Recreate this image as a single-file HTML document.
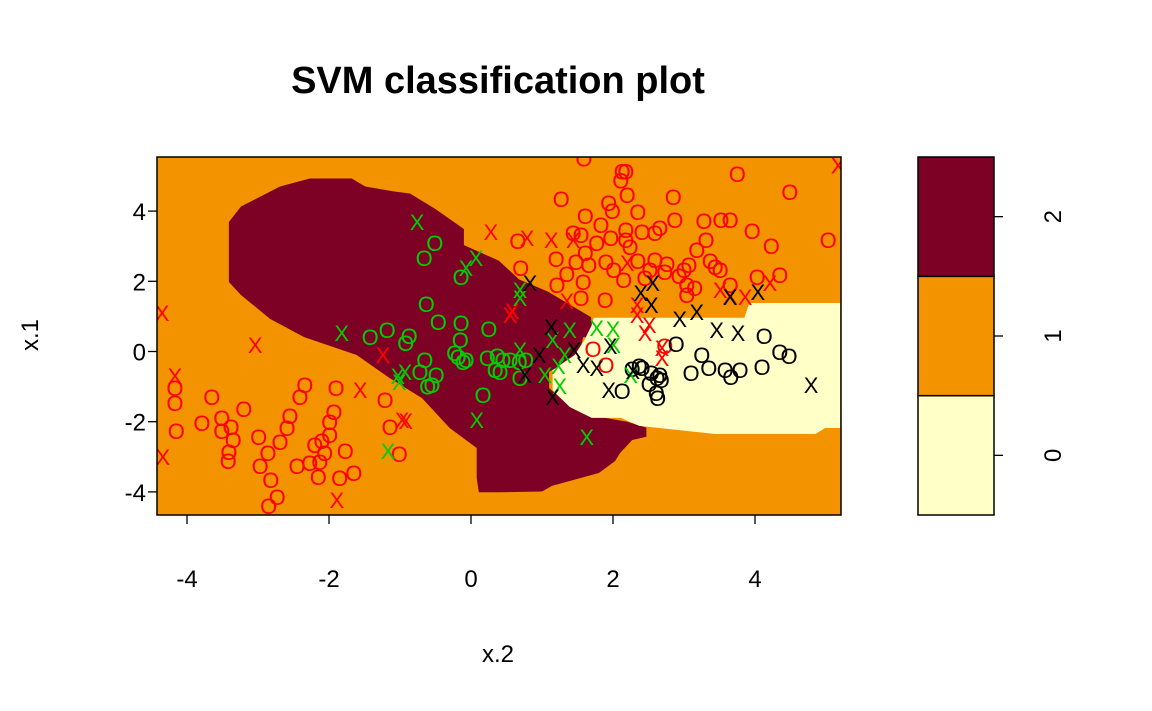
<!DOCTYPE html>
<html><head><meta charset="utf-8"><style>
html,body{margin:0;padding:0;background:#fff;}
svg{display:block;font-family:"Liberation Sans",Arial,sans-serif;}
</style></head><body>
<svg id="chart" width="1152" height="711" viewBox="0 0 1152 711">
<text x="498" y="93" text-anchor="middle" font-size="38" font-weight="bold">SVM classification plot</text>
<g id="plot"></g>
<g id="axes"></g>
<g id="legend"></g>
<text x="498" y="662" text-anchor="middle" font-size="24">x.2</text>
<text x="0" y="0" transform="translate(38,335) rotate(-90)" text-anchor="middle" font-size="24">x.1</text>
</svg>
<script>
const xTicks=[-4,-2,0,2,4];
const yTicks=[-4,-2,0,2,4];
const classLevels=["0","1","2"];
const classColors=["#FFFFC8","#F39300","#7D0025"];
// decision regions (data coords)
const regionClass2=[[-3.41,3.69],[-3.24,4.13],[-2.69,4.70],[-2.27,4.93],[-1.68,4.93],[-1.49,4.70],[-1.08,4.56],[-0.86,4.50],[-0.51,4.07],[-0.10,3.49],[-0.10,3.03],[0.39,2.59],[0.68,2.05],[1.08,1.71],[1.69,0.98],[1.72,0.41],[1.58,0.41],[1.52,-0.10],[1.10,-0.58],[1.10,-1.04],[1.34,-1.47],[1.63,-1.80],[2.20,-2.00],[2.47,-2.17],[2.47,-2.43],[2.27,-2.52],[2.10,-2.89],[2.03,-3.12],[1.80,-3.46],[1.14,-3.83],[1.00,-3.99],[0.40,-4.01],[0.11,-4.01],[0.08,-3.6],[0.08,-2.75],[-0.30,-2.18],[-0.69,-1.33],[-1.15,-0.75],[-1.61,-0.10],[-2.35,0.41],[-2.83,0.93],[-3.24,1.61],[-3.41,1.98]];
const regionClass0=[[1.73,0.96],[3.85,0.96],[3.92,1.38],[5.2,1.38],[5.2,-2.18],[4.99,-2.18],[4.85,-2.35],[3.44,-2.35],[2.37,-2.12],[2.11,-1.89],[1.70,-1.89],[1.39,-1.58],[1.15,-1.10],[1.15,-0.53],[1.46,-0.10],[1.60,0.33],[1.70,0.75]];
// points
const redO=[[-4.17,-1.04],[-4.17,-1.47],[-4.15,-2.27],[-3.65,-1.30],[-3.79,-2.04],[-3.51,-1.89],[-3.51,-2.26],[-3.38,-2.15],[-3.41,-2.86],[-3.42,-3.12],[-3.35,-2.52],[-3.20,-1.64],[-2.99,-2.44],[-2.97,-3.26],[-2.86,-2.89],[-2.59,-2.18],[-2.55,-1.84],[-2.41,-1.30],[-2.34,-0.95],[-2.69,-2.58],[-2.45,-3.26],[-2.82,-3.66],[-2.85,-4.40],[-2.73,-4.15],[-2.20,-2.66],[-2.10,-2.55],[-2.06,-2.89],[-2.13,-3.15],[-2.15,-3.58],[-1.99,-2.38],[-1.99,-2.01],[-1.77,-2.83],[-1.85,-3.60],[-1.65,-3.46],[-1.90,-1.04],[-1.93,-1.72],[-1.21,-1.38],[-1.01,-2.92],[-1.14,-2.15],[-2.27,-3.18],
[1.59,5.5],[2.11,4.87],[2.13,5.13],[2.18,5.13],[1.27,4.34],[1.94,4.23],[2.20,4.46],[3.75,5.06],[4.49,4.55],[5.03,3.18],[1.61,3.86],[1.99,4.0],[2.35,3.97],[2.85,4.40],[2.87,3.75],[3.28,3.72],[3.52,3.75],[3.96,3.43],[4.23,3.0],[4.35,2.18],[2.18,3.18],[2.24,2.98],[2.41,3.40],[2.59,3.38],[2.66,3.52],[1.61,2.81],[1.77,3.09],[1.97,3.23],[1.44,3.38],[1.48,2.55],[1.35,2.21],[1.20,2.64],[1.66,2.46],[1.90,2.55],[2.01,2.32],[2.35,2.58],[2.73,2.27],[2.93,2.15],[3.0,2.32],[3.07,2.46],[3.18,2.89],[3.31,3.18],[3.37,2.58],[3.44,2.41],[3.51,2.32],[3.65,1.89],[4.03,2.12],[3.04,1.61],[3.15,1.81],[2.15,2.04],[1.58,1.98],[1.55,1.52],[1.89,1.47],[2.45,2.09],[2.52,2.32],[2.73,0.16],[1.90,-0.38],[1.72,0.07],[1.21,1.89],[0.70,2.38],[0.66,3.15],[1.55,3.32],[1.83,3.61],[2.18,3.46],[2.59,2.61],[2.76,2.49],[3.04,1.89],[3.65,3.75]];
const redX=[[-4.35,1.10],[-4.17,-0.70],[-4.34,-3.0],[-3.04,0.19],[-1.24,-0.10],[-1.56,-1.10],[-0.97,-1.95],[-0.92,-1.98],[-1.89,-4.23],[5.17,5.3],[0.79,3.23],[1.13,3.18],[1.44,3.18],[0.28,3.40],[0.58,1.15],[0.55,1.04],[1.35,1.44],[2.34,1.32],[2.34,1.04],[2.45,0.53],[2.51,0.76],[2.69,-0.19],[3.51,1.75],[3.65,1.58],[3.86,1.55],[4.21,1.95],[2.20,2.52],[2.69,0.10]];
const greenO=[[-0.66,2.66],[-0.51,3.09],[-0.14,2.12],[-0.63,1.35],[-0.46,0.84],[-0.14,0.81],[-0.15,0.33],[0.25,0.64],[-1.18,0.61],[-1.42,0.41],[-0.87,0.44],[-0.92,0.24],[-0.65,-0.24],[-0.72,-0.58],[-0.49,-0.67],[-0.55,-0.95],[-0.61,-1.0],[-0.18,-0.16],[-0.23,-0.04],[-0.11,-0.30],[-0.07,-0.24],[0.17,-1.24],[0.23,-0.19],[0.34,-0.53],[0.41,-0.58],[0.55,-0.24],[0.77,-0.24],[0.68,-0.30],[0.69,-0.75],[0.45,-0.24],[0.37,-0.13]];
const greenX=[[-0.76,3.69],[-0.07,2.38],[0.07,2.66],[0.69,1.75],[0.69,1.52],[-1.82,0.53],[-1.03,-0.70],[-0.93,-0.58],[-1.01,-0.87],[-1.17,-2.83],[0.08,-1.95],[1.63,-2.44],[1.04,-0.67],[1.25,-0.98],[1.15,0.33],[1.23,-0.41],[1.39,0.61],[1.77,0.67],[2.0,0.64],[2.01,0.19],[2.25,-0.67],[1.32,-0.10],[0.69,0.04]];
const blackO=[[2.13,-1.13],[2.37,-0.41],[2.41,-0.47],[2.54,-0.61],[2.66,-0.67],[2.62,-0.75],[2.68,-0.81],[2.61,-1.18],[2.63,-1.32],[2.89,0.21],[3.1,-0.61],[3.25,-0.10],[3.35,-0.47],[3.58,-0.52],[3.66,-0.72],[3.79,-0.52],[4.1,-0.44],[4.13,0.44],[4.35,-0.01],[4.48,-0.13],[2.27,-0.50],[2.51,-0.93]];
const blackX=[[0.83,1.95],[1.13,0.70],[1.15,-1.30],[0.76,-0.67],[0.96,-0.10],[1.45,0.04],[1.58,-0.38],[1.77,-0.47],[1.96,0.16],[1.94,-1.10],[2.28,-0.55],[2.39,1.67],[2.56,1.95],[2.54,1.32],[2.94,0.92],[3.18,1.13],[3.46,0.61],[3.65,1.55],[4.04,1.69],[3.76,0.53],[4.79,-0.95]];

const NS="http://www.w3.org/2000/svg";
const L=157,R=841,T=157,B=515;
function sx(v){return 471+v*71;}
function sy(v){return 351.5-v*35.1;}
function mk(tag,attrs,parent){const e=document.createElementNS(NS,tag);for(const k in attrs)e.setAttribute(k,attrs[k]);parent.appendChild(e);return e;}
const plot=document.getElementById('plot'),axes=document.getElementById('axes'),leg=document.getElementById('legend');
let cp=mk('clipPath',{id:'pc'},plot);mk('rect',{x:L,y:T,width:R-L,height:B-T},cp);
const g=mk('g',{'clip-path':'url(#pc)'},plot);
let bg=mk('rect',{x:L,y:T,width:R-L,height:B-T,fill:classColors[1]},g);


function poly(pts,fill,name){const p=mk('polygon',{points:pts.map(q=>sx(q[0])+','+sy(q[1])).join(' '),fill:fill},g);

}
poly(regionClass2,classColors[2],'region-class-2');
poly(regionClass0,classColors[0],'region-class-0');
function pts(arr,ch,col,name){arr.forEach(q=>{const t=mk('text',{x:sx(q[0]),y:sy(q[1])+8,'text-anchor':'middle','font-size':'22',fill:col},g);t.textContent=ch;

});}
pts(redO,'O','#FF0000','point-class1');
pts(greenO,'O','#00CD00','point-class2');
pts(blackO,'O','#000000','point-class0');
pts(redX,'X','#FF0000','support-vector-class1');
pts(greenX,'X','#00CD00','support-vector-class2');
pts(blackX,'X','#000000','support-vector-class0');
let fr=mk('rect',{x:L,y:T,width:R-L,height:B-T,fill:'none',stroke:'#000','stroke-width':1.5},plot);


xTicks.forEach(v=>{mk('line',{x1:sx(v),x2:sx(v),y1:B,y2:B+9,stroke:'#000','stroke-width':1.3},axes);
const t=mk('text',{x:sx(v),y:587,'text-anchor':'middle','font-size':'24'},axes);t.textContent=v<0?'-'+(-v):String(v);

});
yTicks.forEach(v=>{mk('line',{x1:L,x2:L-9,y1:sy(v),y2:sy(v),stroke:'#000','stroke-width':1.3},axes);
const t=mk('text',{x:146,y:sy(v)+9,'text-anchor':'end','font-size':'24'},axes);t.textContent=v<0?'-'+(-v):String(v);

});
// legend
const LT=157,LB=515,LX=918,LW=76,bh=(LB-LT)/classLevels.length;
classLevels.forEach((lv,i)=>{const y0=LB-(i+1)*bh;
const r=mk('rect',{x:LX,y:y0,width:LW,height:bh,fill:classColors[i],stroke:'#000','stroke-width':1.5},leg);


const yc=y0+bh/2;
mk('line',{x1:LX+LW,x2:LX+LW+9,y1:yc,y2:yc,stroke:'#000','stroke-width':1.3},leg);
const t=mk('text',{x:0,y:0,transform:'translate(1061,'+yc+') rotate(-90)','text-anchor':'middle','font-size':'24'},leg);t.textContent=lv;

});
</script>
</body></html>
